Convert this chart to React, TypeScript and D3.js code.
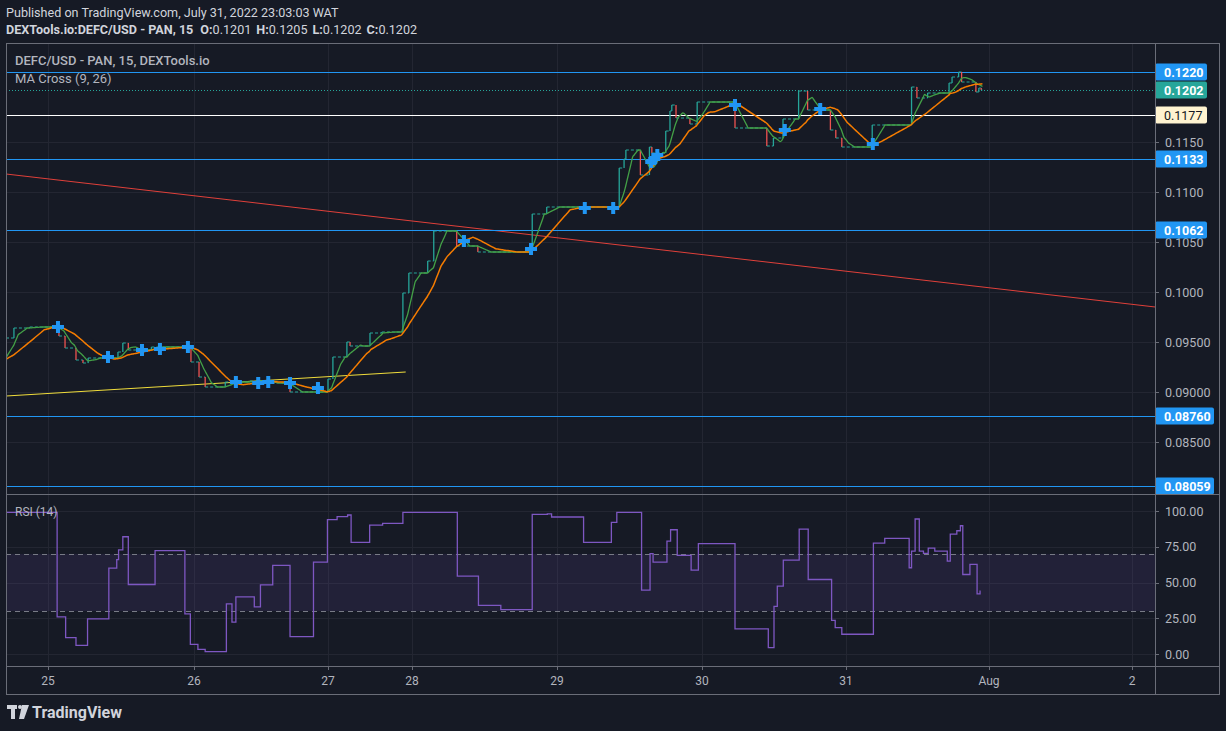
import * as d3 from 'd3';

// price path, read as [hour since Jul 25 00:00, price] steps (15m bars barely move between jumps)
const PRICE_STEPS: [number, number][] = [
  [-16, 0.0932], [-6.9, 0.0954], [-5.6, 0.0964], [-3.0, 0.0965], [1.8, 0.0956], [2.8, 0.0944],
  [4.6, 0.0932], [5.75, 0.0929], [6.6, 0.0934], [11.5, 0.094], [12.3, 0.0949], [13.2, 0.0942],
  [17.0, 0.0945], [23.5, 0.093], [24.9, 0.0915], [26.0, 0.0905], [29.6, 0.091], [34.0, 0.0911],
  [37.0, 0.0909], [41.2, 0.09], [48.0, 0.0913], [49.4, 0.0935], [53.4, 0.095], [54.3, 0.0946],
  [60.0, 0.0959], [63.4, 0.096], [69.4, 0.0999], [71.1, 0.1019], [74.6, 0.1031], [75.6, 0.1061],
  [79.4, 0.1046], [82.9, 0.104], [91.9, 0.1078], [94.3, 0.1085], [106.3, 0.1124], [107.1, 0.1133],
  [107.4, 0.1142], [109.8, 0.1117], [111.3, 0.1145], [111.7, 0.1139], [114.0, 0.1161], [114.7, 0.1181],
  [115.0, 0.1187], [115.7, 0.1174], [118.0, 0.1168], [119.2, 0.119], [125.5, 0.1164], [130.8, 0.1146],
  [131.9, 0.1154], [133.5, 0.1173], [136.1, 0.1201], [137.6, 0.1182], [141.4, 0.1162], [142.3, 0.1154],
  [143.3, 0.1145], [148.4, 0.1167], [155.0, 0.1205], [155.9, 0.1194], [157.7, 0.1199], [161.3, 0.1209],
  [161.8, 0.1215], [162.9, 0.122], [163.4, 0.121], [165.8, 0.12], [166.3, 0.1204], [166.7, 0.1202],
];
const LAST_HOUR = 166.9;

const RSI_STEPS: [number, number][] = [
  [-8, 99], [1.5, 26], [2.9, 11.5], [4.6, 6], [6.5, 24.6], [10.0, 60], [11.3, 66], [11.6, 72.8],
  [12.3, 82], [13.2, 48.6], [17.6, 72.3], [22.5, 28], [23.4, 6.8], [24.7, 3.3], [26.0, 1.6],
  [29.8, 35], [30.8, 22.3], [31.5, 40], [34.8, 32.9], [35.9, 48.4], [38.1, 62], [41.2, 12.2],
  [45.4, 64.3], [47.9, 93.9], [50.6, 96], [53.6, 97.2], [54.6, 78], [59.9, 90.1], [63.6, 91.3],
  [69.4, 99], [79.5, 54.5], [83.0, 34], [86.7, 31], [91.9, 97.7], [94.4, 98], [95.1, 95.8],
  [100.4, 78], [105.0, 92], [105.9, 99], [110.0, 44.6], [111.4, 70.2], [111.9, 64.3], [114.2, 79],
  [114.8, 86.9], [115.9, 69], [118.2, 58.7], [119.4, 77.2], [125.5, 17.6], [131.05, 4.5],
  [132.0, 33.3], [132.55, 47.4], [133.55, 65.7], [136.2, 87.3], [137.7, 52.1], [141.6, 23.5],
  [142.2, 18.5], [143.3, 13.8], [148.6, 77.5], [150.5, 80.8], [154.6, 60.3], [155.0, 72],
  [155.6, 94.4], [156.3, 72], [157.0, 70.4], [157.8, 74], [158.9, 72], [161.0, 65], [161.5, 83.8],
  [162.6, 86.2], [163.2, 89.7], [163.6, 55.6], [164.8, 62.7], [166.0, 42], [166.5, 43.9],
];

// MA cross markers [hour, price]
const CROSSES: [number, number][] = [
  [1.64, 0.0965], [9.86, 0.0935], [15.45, 0.0942], [18.4, 0.0943], [23.0, 0.0945], [31.5, 0.091],
  [35.5, 0.0909], [37.3, 0.091], [41.2, 0.0909], [46.2, 0.0904], [80.6, 0.1051], [91.7, 0.1043],
  [100.6, 0.1084], [105.3, 0.1084], [111.6, 0.113], [112.1, 0.1133], [112.6, 0.1137],
  [125.5, 0.1187], [133.8, 0.1162], [139.7, 0.1183], [148.5, 0.1148],
];

const DAY_LABELS = ['25', '26', '27', '28', '29', '30', '31', 'Aug', '2'];
const DAY_HOURS = [0, 24, 48, 72, 96, 120, 144, 168, 192];
const DAY_X = [48, 194, 328, 412, 557, 702, 846, 989, 1132]; // bar-index spacing (27th has missing bars)

const PRICE_TICKS = [0.115, 0.11, 0.105, 0.1, 0.095, 0.09, 0.085];
const RSI_TICKS = [100, 75, 50, 25, 0];

const LEVELS = [
  { price: 0.122, label: '0.1220', kind: 'blue' },
  { price: 0.1177, label: '0.1177', kind: 'white' },
  { price: 0.1133, label: '0.1133', kind: 'blue' },
  { price: 0.1062, label: '0.1062', kind: 'blue' },
  { price: 0.0876, label: '0.08760', kind: 'blue' },
  { price: 0.08059, label: '0.08059', kind: 'blue' },
];
const LAST_PRICE = 0.1202;

const RED_TREND: [number, number][] = [[-6.9, 0.1118], [195.9, 0.0985]];
const YELLOW_TREND: [number, number][] = [[-6.9, 0.0896], [70.2, 0.092]];

const MA_FAST = 9;
const MA_SLOW = 26;

const W = 1226, H = 731;
const L = 6, R = 1155, RA = 1219;
const TOP = 43, SEP = 494, BOT = 666, AXB = 694;
const BG = '#161a25', GRID = '#232632', FRAME = '#6a6d78', TXT = '#b2b5be';
const BLUE = '#2196f3', TEAL = '#26a69a', RED = '#ef5350';
const FONT = 'Roboto, "Noto Sans", sans-serif';

const x = d3.scaleLinear().domain(DAY_HOURS).range(DAY_X);
const y = d3.scaleLinear().domain([0.08, 0.125]).range([492, 42]);
const yr = d3.scaleLinear().domain([0, 100]).range([654, 511]);
const crisp = (v: number) => Math.round(v) + 0.5;

function stepAt(t: number) {
  let v = PRICE_STEPS[0][1];
  for (const [h, p] of PRICE_STEPS) {
    if (h <= t) v = p;
    else break;
  }
  return v;
}

// 15m bars on the bar grid, used for the moving averages
const BAR_PX = (DAY_X[1] - DAY_X[0]) / 96;
const bars: { px: number; close: number }[] = [];
for (let px = x(LAST_HOUR); px >= x(PRICE_STEPS[0][0]); px -= BAR_PX) {
  bars.unshift({ px, close: stepAt(x.invert(px)) });
}
function sma(n: number) {
  return bars.map((b, i) => {
    if (i < n - 1) return null;
    const v = d3.mean(bars.slice(i - n + 1, i + 1), (d) => d.close)!;
    return { px: b.px, v };
  }).filter(Boolean) as { px: number; v: number }[];
}
const fast = sma(MA_FAST);
const slow = sma(MA_SLOW);

export default function App() {
  const maLine = d3.line<{ px: number; v: number }>().x((d) => d.px).y((d) => y(d.v)).curve(d3.curveMonotoneX);
  const rsiLine = d3.line<[number, number]>().x((d) => x(d[0])).y((d) => yr(d[1])).curve(d3.curveStepAfter);
  const crossPath = d3.symbol(d3.symbolCross, 80)()!;

  const segs: JSX.Element[] = [];
  PRICE_STEPS.forEach(([h, p], i) => {
    const next = PRICE_STEPS[i + 1];
    const h2 = next ? next[0] : LAST_HOUR;
    segs.push(
      <line key={'h' + i} x1={x(h)} x2={x(h2)} y1={y(p)} y2={y(p)} stroke={TEAL} strokeWidth={1} strokeDasharray="3,2" />
    );
    if (next) {
      segs.push(
        <line key={'v' + i} x1={x(h2)} x2={x(h2)} y1={y(p)} y2={y(next[1])} stroke={next[1] >= p ? TEAL : RED} strokeWidth={1.3} />
      );
    }
  });

  const rsiData: [number, number][] = [...RSI_STEPS, [LAST_HOUR - 0.3, RSI_STEPS[RSI_STEPS.length - 1][1]]];

  const boxW = (s: string) => (s.length > 6 ? 59 : 52);

  return (
    <svg width={W} height={H} style={{ position: 'absolute', left: 0, top: 0, fontFamily: FONT }}>
      <defs>
        <clipPath id="main"><rect x={L} y={TOP} width={R - L} height={SEP - TOP} /></clipPath>
        <clipPath id="rsi"><rect x={L} y={SEP} width={R - L} height={BOT - SEP} /></clipPath>
      </defs>
      <rect width={W} height={H} fill={BG} />

      <text x={6} y={12} fill="#d1d4dc" fontSize={12.6} dominantBaseline="central">Published on TradingView.com, July 31, 2022 23:03:03 WAT</text>
      <text x={6} y={29} fill="#d1d4dc" fontSize={12.6} dominantBaseline="central">
        <tspan fontWeight="bold">DEXTools.io:DEFC/USD - PAN, 15</tspan>
        <tspan fontWeight="bold" dx={7}>O:</tspan><tspan>0.1201</tspan>
        <tspan fontWeight="bold" dx={5}>H:</tspan><tspan>0.1205</tspan>
        <tspan fontWeight="bold" dx={5}>L:</tspan><tspan>0.1202</tspan>
        <tspan fontWeight="bold" dx={5}>C:</tspan><tspan>0.1202</tspan>
      </text>

      {/* grid */}
      {DAY_HOURS.map((h, i) => (
        <line key={'gx' + i} x1={crisp(x(h))} x2={crisp(x(h))} y1={TOP} y2={BOT} stroke={GRID} />
      ))}
      {PRICE_TICKS.map((p) => (
        <line key={'gy' + p} x1={L} x2={R} y1={crisp(y(p))} y2={crisp(y(p))} stroke={GRID} />
      ))}
      {RSI_TICKS.map((v) => (
        <line key={'gr' + v} x1={L} x2={R} y1={crisp(yr(v))} y2={crisp(yr(v))} stroke={GRID} />
      ))}

      {/* RSI band */}
      <rect x={L} y={yr(70)} width={R - L} height={yr(30) - yr(70)} fill="rgba(126,87,194,0.12)" />
      <line x1={L} x2={R} y1={crisp(yr(70))} y2={crisp(yr(70))} stroke="#787b86" strokeDasharray="5,4" />
      <line x1={L} x2={R} y1={crisp(yr(30))} y2={crisp(yr(30))} stroke="#787b86" strokeDasharray="5,4" />
      <g clipPath="url(#rsi)">
        <path d={rsiLine(rsiData)!} fill="none" stroke="#7e57c2" strokeWidth={1.3} />
      </g>

      {/* main pane */}
      <g clipPath="url(#main)">
        <line x1={x(RED_TREND[0][0])} y1={y(RED_TREND[0][1])} x2={x(RED_TREND[1][0])} y2={y(RED_TREND[1][1])} stroke="#e0403a" strokeWidth={1} />
        <line x1={x(YELLOW_TREND[0][0])} y1={y(YELLOW_TREND[0][1])} x2={x(YELLOW_TREND[1][0])} y2={y(YELLOW_TREND[1][1])} stroke="#f0dd3c" strokeWidth={1} />
        {LEVELS.map((l) => (
          <line key={'lv' + l.label} x1={L} x2={R} y1={crisp(y(l.price))} y2={crisp(y(l.price))} stroke={l.kind === 'blue' ? BLUE : '#ffffff'} strokeWidth={1} />
        ))}
        <line x1={L} x2={R} y1={crisp(y(LAST_PRICE))} y2={crisp(y(LAST_PRICE))} stroke={TEAL} strokeDasharray="1,2" />
        {segs}
        <path d={maLine(fast)!} fill="none" stroke="#43a047" strokeWidth={1.3} />
        <path d={maLine(slow)!} fill="none" stroke="#f57c00" strokeWidth={1.5} />
        {CROSSES.map(([h, p], i) => (
          <path key={'c' + i} d={crossPath} transform={`translate(${x(h)},${y(p)})`} fill={BLUE} />
        ))}
      </g>

      <text x={15} y={60} fill={TXT} fontSize={13} fontWeight={500} dominantBaseline="central">DEFC/USD - PAN, 15, DEXTools.io</text>
      <text x={15} y={78} fill={TXT} fontSize={13} dominantBaseline="central">MA Cross (9, 26)</text>
      <text x={15} y={512} fill={TXT} fontSize={12} dominantBaseline="central">RSI (14)</text>

      {/* price axis */}
      {PRICE_TICKS.map((p) => (
        <g key={'pt' + p}>
          <line x1={R} x2={R + 4} y1={crisp(y(p))} y2={crisp(y(p))} stroke={FRAME} />
          <text x={R + 10} y={y(p)} fill={TXT} fontSize={12.5} dominantBaseline="central">{p >= 0.1 ? p.toFixed(4) : p.toFixed(5)}</text>
        </g>
      ))}
      {RSI_TICKS.map((v) => (
        <g key={'rt' + v}>
          <line x1={R} x2={R + 4} y1={crisp(yr(v))} y2={crisp(yr(v))} stroke={FRAME} />
          <text x={R + 10} y={yr(v)} fill={TXT} fontSize={12.5} dominantBaseline="central">{v.toFixed(2)}</text>
        </g>
      ))}
      {LEVELS.map((l) => (
        <g key={'lb' + l.label}>
          <rect x={R} y={y(l.price) - 8.5} width={boxW(l.label)} height={17} rx={2} fill={l.kind === 'blue' ? BLUE : '#fff3d0'} />
          <text x={R + 9} y={y(l.price)} fill={l.kind === 'blue' ? '#ffffff' : '#131722'} fontSize={12.5} fontWeight={l.kind === 'blue' ? 'bold' : 'normal'} dominantBaseline="central">{l.label}</text>
        </g>
      ))}
      <rect x={R} y={y(LAST_PRICE) - 8.5} width={52} height={17} rx={2} fill={TEAL} />
      <text x={R + 9} y={y(LAST_PRICE)} fill="#ffffff" fontSize={12.5} fontWeight="bold" dominantBaseline="central">{LAST_PRICE.toFixed(4)}</text>

      {/* time axis */}
      {DAY_HOURS.map((h, i) => (
        <g key={'tx' + i}>
          <line x1={crisp(x(h))} x2={crisp(x(h))} y1={BOT} y2={BOT + 4} stroke={FRAME} />
          <text x={x(h)} y={681} fill={TXT} fontSize={12} textAnchor="middle" dominantBaseline="central">{DAY_LABELS[i]}</text>
        </g>
      ))}

      {/* frame */}
      <rect x={L + 0.5} y={TOP + 0.5} width={RA - L} height={AXB - TOP} fill="none" stroke={FRAME} />
      <line x1={R + 0.5} x2={R + 0.5} y1={TOP} y2={AXB} stroke={FRAME} />
      <line x1={L} x2={RA} y1={SEP + 0.5} y2={SEP + 0.5} stroke={FRAME} />
      <line x1={L} x2={RA} y1={BOT + 0.5} y2={BOT + 0.5} stroke={FRAME} />

      {/* logo */}
      <g fill="#d1d4dc">
        <rect x={7} y={705} width={10} height={4} />
        <rect x={11} y={705} width={4} height={14} />
        <circle cx={20} cy={707} r={2} />
        <path d="M22 705 L29 705 L24 719 L19 719 Z" />
      </g>
      <text x={32} y={712} fill="#d1d4dc" fontSize={16} fontWeight="bold" dominantBaseline="central">TradingView</text>
    </svg>
  );
}
